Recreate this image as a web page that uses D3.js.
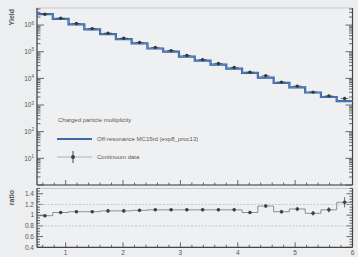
<!DOCTYPE html>
<html><head><meta charset="utf-8">
<script src="https://cdn.jsdelivr.net/npm/d3@7"></script>
<style>
html,body{margin:0;padding:0;background:#eceef0;}
svg{display:block;font-family:"Liberation Sans",Arial,sans-serif;}
</style></head>
<body>
<svg id="c" width="358" height="257"></svg>
<script>
// ---- data ----
const binEdges = [0.5,0.775,1.05,1.325,1.6,1.875,2.15,2.425,2.7,2.975,3.25,3.525,3.8,4.075,4.35,4.625,4.9,5.175,5.45,5.725,6.0];
const mcYield = [2.57e6,1.70e6,1.07e6,6.9e5,4.6e5,2.95e5,2.04e5,1.32e5,1.0e5,6.6e4,4.6e4,3.3e4,2.34e4,1.62e4,1.07e4,6.8e3,4.6e3,2.95e3,2.0e3,1.41e3];
const dataYield = [2.55e6,1.79e6,1.14e6,7.35e5,4.97e5,3.19e5,2.22e5,1.45e5,1.10e5,7.26e4,5.06e4,3.63e4,2.57e4,1.70e4,1.25e4,7.24e3,5.13e3,3.05e3,2.2e3,1.75e3];
const ratio = [0.99,1.05,1.065,1.065,1.08,1.08,1.09,1.10,1.10,1.10,1.10,1.10,1.10,1.05,1.17,1.065,1.115,1.035,1.10,1.24];
const ratioErr = [0.01,0.01,0.01,0.01,0.01,0.01,0.01,0.01,0.01,0.01,0.012,0.012,0.015,0.015,0.018,0.02,0.025,0.03,0.035,0.08];
const yTickExp = [1,2,3,4,5,6];
const ratioTicks = [0.4,0.6,0.8,1,1.2,1.4];
const ratioRefLines = [1.2,0.8];
const xTicks = [1,2,3,4,5,6];
const legendTitle = "Charged particle multiplicity";
const legendMC = "Off-resonance MC15rd (exp8_proc13)";
const legendData = "Continuum data";

// ---- layout ----
const L = 37, R = 352.5, T1 = 8, B1 = 185, T2 = 188.4, B2 = 247.3;
const svg = d3.select("#c");
const axisCol = "#444", textCol = "#555";
const x = d3.scaleLinear().domain([0.5,6]).range([L,R]);
const y = d3.scaleLog().domain([1, Math.pow(10,6.64)]).range([B1,T1]);
const yr = d3.scaleLinear().domain([0.4,1.5]).range([B2,T2]);

const centers = ratio.map((_,i)=>(binEdges[i]+binEdges[i+1])/2);

// frames
svg.append("rect").attr("x",L).attr("y",T1).attr("width",R-L).attr("height",B1-T1)
  .attr("fill","#eff0f2").attr("stroke","#bfc2c6").attr("stroke-width",0.8);
svg.append("rect").attr("x",L).attr("y",T2).attr("width",R-L).attr("height",B2-T2)
  .attr("fill","#eff0f2").attr("stroke","#bfc2c6").attr("stroke-width",0.8);

// ---- top panel ticks ----
function logMinor(){
  const arr=[];
  for(let e=0;e<=6;e++) for(let m=1;m<10;m++){const v=m*Math.pow(10,e); if(v<=y.domain()[1]) arr.push(v);}
  return arr;
}
const gT = svg.append("g");
logMinor().forEach(v=>{
  const major = Math.abs(Math.log10(v)%1)<1e-9;
  const len = major?7:3.5;
  gT.append("line").attr("x1",L).attr("x2",L+len).attr("y1",y(v)).attr("y2",y(v)).attr("stroke",axisCol).attr("stroke-width",0.8);
  gT.append("line").attr("x1",R).attr("x2",R-len).attr("y1",y(v)).attr("y2",y(v)).attr("stroke",axisCol).attr("stroke-width",0.8);
});
yTickExp.forEach(e=>{
  const t = gT.append("text").attr("x",34).attr("y",y(Math.pow(10,e))+2.2).attr("text-anchor","end")
    .attr("font-size",6.5).attr("fill",textCol);
  t.append("tspan").text("10");
  t.append("tspan").attr("dy",-2.5).attr("font-size",4.5).text(e);
});
// x ticks (both panels)
const xMinor = d3.range(0.6,6.001,0.2);
xMinor.forEach(v=>{
  const major = Math.abs(v-Math.round(v))<1e-6;
  const len = major?5:2.5;
  [B1,B2].forEach(b=>{
    svg.append("line").attr("x1",x(v)).attr("x2",x(v)).attr("y1",b).attr("y2",b-len).attr("stroke",axisCol).attr("stroke-width",0.8);
  });
});
xTicks.forEach(v=>{
  svg.append("text").attr("x",x(v)).attr("y",255).attr("text-anchor","middle")
    .attr("font-size",6.5).attr("fill",textCol).text(v);
});

// axes lines
[[L,T1,L,B1],[L,B1,R,B1],[R,T1,R,B1],[L,T2,L,B2],[L,B2,R,B2],[R,T2,R,B2]].forEach(a=>{
  svg.append("line").attr("x1",a[0]).attr("y1",a[1]).attr("x2",a[2]).attr("y2",a[3]).attr("stroke",axisCol).attr("stroke-width",1.2);
});

// ratio ticks
d3.range(0.4,1.5001,0.05).forEach(v=>{
  const major = ratioTicks.some(t=>Math.abs(t-v)<1e-6);
  const len = major?6:3;
  svg.append("line").attr("x1",L).attr("x2",L+len).attr("y1",yr(v)).attr("y2",yr(v)).attr("stroke",axisCol).attr("stroke-width",0.8);
  svg.append("line").attr("x1",R).attr("x2",R-len).attr("y1",yr(v)).attr("y2",yr(v)).attr("stroke",axisCol).attr("stroke-width",0.8);
});
ratioTicks.forEach(v=>{
  svg.append("text").attr("x",34).attr("y",yr(v)+2.2).attr("text-anchor","end")
    .attr("font-size",6.5).attr("fill",textCol).text(v===1?"1":v.toFixed(1));
});
ratioRefLines.forEach(v=>{
  svg.append("line").attr("x1",L).attr("x2",R).attr("y1",yr(v)).attr("y2",yr(v))
    .attr("stroke","#b9bcc0").attr("stroke-width",0.8).attr("stroke-dasharray","2,1.5");
});

// axis titles
svg.append("text").attr("transform","translate(14,9) rotate(-90)").attr("text-anchor","end")
  .attr("font-size",7).attr("font-weight","bold").attr("fill",textCol).text("Yield");
svg.append("text").attr("transform","translate(14,190) rotate(-90)").attr("text-anchor","end")
  .attr("font-size",7).attr("font-weight","bold").attr("fill",textCol).text("ratio");

// ---- MC step histogram ----
const stepPts = mcYield.map((v,i)=>[binEdges[i],v]).concat([[binEdges[binEdges.length-1],mcYield[mcYield.length-1]]]);
const stepLine = d3.line().x(d=>x(d[0])).y(d=>y(d[1])).curve(d3.curveStepAfter);
svg.append("path").attr("d",stepLine(stepPts)).attr("fill","none").attr("stroke","#3a5f9c").attr("stroke-width",2.2);
svg.append("path").attr("d",stepLine(stepPts)).attr("fill","none").attr("stroke","#5b83c4").attr("stroke-width",1);

// ---- data points top ----
const gD = svg.append("g");
dataYield.forEach((v,i)=>{
  const cx = x(centers[i]), cy = y(v);
  const rel = ratioErr[i]/ratio[i];
  gD.append("line").attr("x1",cx-4).attr("x2",cx+4).attr("y1",cy).attr("y2",cy).attr("stroke","#3a444a").attr("stroke-width",0.7);
  gD.append("line").attr("x1",cx).attr("x2",cx).attr("y1",y(v*(1+rel))-0.8).attr("y2",y(v*(1-rel))+0.8).attr("stroke","#3a444a").attr("stroke-width",0.7);
  gD.append("circle").attr("cx",cx).attr("cy",cy).attr("r",1.7).attr("fill","#2f3a40");
});

// ---- ratio ----
const rStep = ratio.map((v,i)=>[binEdges[i],v]).concat([[binEdges[binEdges.length-1],ratio[ratio.length-1]]]);
const rLine = d3.line().x(d=>x(d[0])).y(d=>yr(d[1])).curve(d3.curveStepAfter);
svg.append("path").attr("d",rLine(rStep)).attr("fill","none").attr("stroke","#666").attr("stroke-width",0.7);
ratio.forEach((v,i)=>{
  const cx = x(centers[i]);
  svg.append("line").attr("x1",cx).attr("x2",cx).attr("y1",yr(v+ratioErr[i])-0.8).attr("y2",yr(v-ratioErr[i])+0.8).attr("stroke","#444").attr("stroke-width",0.8);
  svg.append("circle").attr("cx",cx).attr("cy",yr(v)).attr("r",1.8).attr("fill","#3a4146");
});

// ---- legend ----
svg.append("text").attr("x",58).attr("y",122).attr("font-size",6).attr("fill","#5f574f").text(legendTitle);
svg.append("line").attr("x1",57).attr("x2",92).attr("y1",139).attr("y2",139).attr("stroke","#3f68aa").attr("stroke-width",1.8);
svg.append("text").attr("x",97).attr("y",141).attr("font-size",6).attr("fill","#5f574f").text(legendMC);
svg.append("line").attr("x1",57).attr("x2",92).attr("y1",157).attr("y2",157).attr("stroke","#c4c6c9").attr("stroke-width",1.5);
svg.append("line").attr("x1",73).attr("x2",73).attr("y1",151).attr("y2",163).attr("stroke","#444").attr("stroke-width",1);
svg.append("circle").attr("cx",73).attr("cy",157).attr("r",2).attr("fill","#3a4146");
svg.append("text").attr("x",97).attr("y",159).attr("font-size",6).attr("fill","#5f574f").text(legendData);
</script>
</body></html>
